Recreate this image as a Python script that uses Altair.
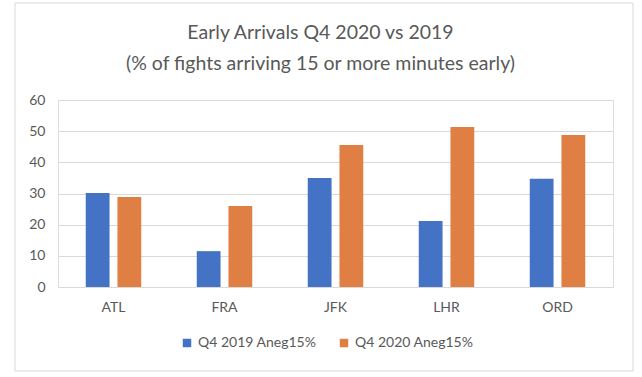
import altair as alt
import pandas as pd

airports = ["ATL", "FRA", "JFK", "LHR", "ORD"]
q4_2019 = [30.2, 11.5, 35.0, 21.2, 34.7]
q4_2020 = [28.9, 26.0, 45.6, 51.3, 48.8]
series = ["Q4 2019 Aneg15%", "Q4 2020 Aneg15%"]
colors = ["#4472C4", "#E07F44"]

rows = []
for i, a in enumerate(airports):
    rows.append({"airport": a, "series": series[0], "value": q4_2019[i]})
    rows.append({"airport": a, "series": series[1], "value": q4_2020[i]})
df = pd.DataFrame(rows)

FONT = "Lato"
GRAY = "#595959"

bars = alt.Chart(df).mark_bar().encode(
    x=alt.X("airport:N", sort=airports, title=None,
            scale=alt.Scale(paddingInner=0.5, paddingOuter=0.25),
            axis=alt.Axis(labelAngle=0, ticks=False, domain=True, domainColor="#d9d9d9",
                          labelPadding=13, labelFontSize=14, labelColor=GRAY, labelFont=FONT, grid=False)),
    xOffset=alt.XOffset("series:N", sort=series, scale=alt.Scale(paddingInner=0.25, paddingOuter=0)),
    y=alt.Y("value:Q", title=None,
            scale=alt.Scale(domain=[0, 60]),
            axis=alt.Axis(values=[0, 10, 20, 30, 40, 50, 60], ticks=False, domain=False,
                          gridColor="#d9d9d9", gridWidth=1, labelPadding=13,
                          labelFontSize=14, labelColor=GRAY, labelFont=FONT)),
    color=alt.Color("series:N", sort=series, scale=alt.Scale(domain=series, range=colors),
                    legend=alt.Legend(title=None, orient="none", direction="horizontal",
                                      legendX=122, legendY=236, symbolType="square",
                                      symbolSize=72, symbolStrokeWidth=0, labelFontSize=14,
                                      labelColor=GRAY, labelFont=FONT, columnPadding=20,
                                      labelOffset=4)),
)

border_df = pd.DataFrame({"k": [0]})
border = alt.Chart(border_df).mark_rect(fill=None, stroke="#d9d9d9", strokeWidth=1).encode(
    x=alt.value(-43), x2=alt.value(575), y=alt.value(-97), y2=alt.value(271)
)

chart = alt.layer(border, bars).properties(
    width=555, height=187,
    title=alt.TitleParams(
        text=["Early Arrivals Q4 2020 vs 2019", "(% of fights arriving 15 or more minutes early)"],
        font=FONT, fontSize=19.5, fontWeight="normal", color=GRAY, lineHeight=31,
        anchor="middle", dx=-15, offset=-72,
    ),
    autosize=alt.AutoSizeParams(type="none"),
    padding={"left": 58, "top": 100, "right": 29, "bottom": 90},
).configure_view(stroke=None).configure(background="white")

chart.save("out.html", embed_options={"renderer": "svg", "actions": False})
